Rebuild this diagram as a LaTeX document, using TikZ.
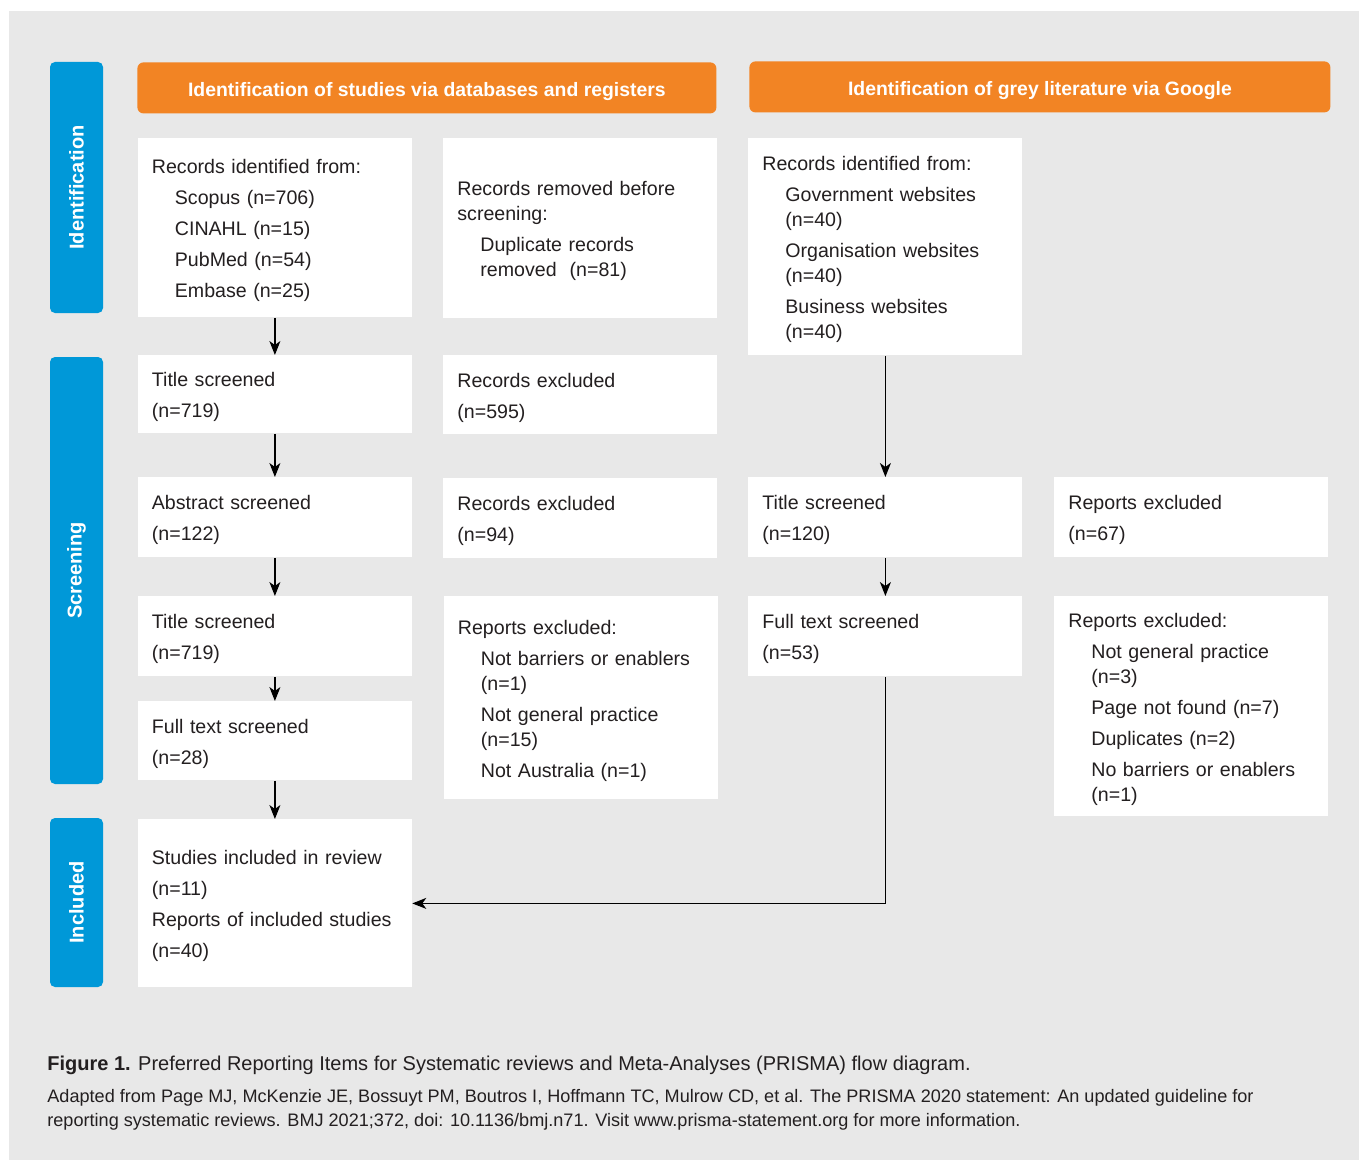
\documentclass[tikz,border=0pt]{standalone}
\usepackage{fontspec}
\setmainfont{Liberation Sans}
\usetikzlibrary{positioning,arrows.meta}

\definecolor{panelgrey}{RGB}{232,232,232}
\definecolor{prismablue}{RGB}{0,152,216}
\definecolor{prismaorange}{RGB}{242,132,36}
\definecolor{inktext}{RGB}{35,31,32}

\newcommand{\subind}{\hspace*{11.5pt}}

\tikzstyle{recbox} = [fill=white, anchor=north west, align=left, text width=123pt, inner xsep=7pt, inner ysep=0pt, text height=9.8pt, text=inktext, font=\fontsize{9.8}{12.5}\selectfont]
\tikzstyle{stagebar} = [fill=prismablue, rounded corners=2.5pt, rotate=90, minimum height=26.5pt, text=white, font=\bfseries\fontsize{10}{12}\selectfont]
\tikzstyle{headbar} = [fill=prismaorange, rounded corners=3pt, anchor=north west, minimum height=25.5pt, text height=9pt, text depth=0pt, text=white, font=\bfseries\fontsize{9.7}{12}\selectfont]
\tikzstyle{flowline} = [draw=black, line width=0.6pt, -{Stealth[length=7pt,width=5.5pt,inset=2pt]}]

\begin{document}
\begin{tikzpicture}[x=0.5pt, y=-0.5pt]
\fill[white] (0,0) rectangle (1360,1161);
\useasboundingbox (0,0) rectangle (1360,1161);
\fill[panelgrey] (9,11) rectangle (1359,1160);

% stage bars
\node[stagebar, minimum width=125.5pt] (ident) at (76.5,187.5) {Identification};
\node[stagebar, minimum width=213.5pt] (screen) at (76.5,570.5) {Screening};
\node[stagebar, minimum width=84.5pt] (incl) at (76.5,902.5) {Included};

% headers
\node[headbar, minimum width=289.5pt] (dbhead) at (137,62) {Identification of studies via databases and registers};
\node[headbar, minimum width=290.5pt] (greyhead) at (749,61) {Identification of grey literature via Google};

% databases and registers
\node[recbox, minimum height=89.5pt] (dbrec) at (137.5,138) {Records identified from:\\[3pt]
  \subind Scopus (n=706)\\[3pt]
  \subind CINAHL (n=15)\\[3pt]
  \subind PubMed (n=54)\\[3pt]
  \subind Embase (n=25)};
\node[recbox, minimum height=39pt] (dbtitle) at (137.5,355) {Title screened\\[3pt](n=719)};
\node[recbox, minimum height=40pt] (dbabs) at (137.5,477) {Abstract screened\\[3pt](n=122)};
\node[recbox, minimum height=40pt] (dbtitletwo) at (137.5,596) {Title screened\\[3pt](n=719)};
\node[recbox, minimum height=39.5pt] (dbfull) at (137.5,701) {Full text screened\\[3pt](n=28)};
\node[recbox, minimum height=84pt] (dbincl) at (137.5,819) {Studies included in review\\[3pt]
  (n=11)\\[3pt]
  Reports of included studies\\[3pt]
  (n=40)};

% removed / excluded
\node[recbox, minimum height=90pt] (dbremoved) at (443,138) {Records removed before\\screening:\\[3pt]
  \subind Duplicate records\\
  \subind removed~ (n=81)};
\node[recbox, minimum height=39.5pt] (dbexone) at (443,355) {Records excluded\\[3pt](n=595)};
\node[recbox, minimum height=40pt] (dbextwo) at (443,478) {Records excluded\\[3pt](n=94)};
\node[recbox, minimum height=101.5pt] (dbexrep) at (443.5,596) {Reports excluded:\\[3pt]
  \subind Not barriers or enablers\\
  \subind (n=1)\\[3pt]
  \subind Not general practice\\
  \subind (n=15)\\[3pt]
  \subind Not Australia (n=1)};

% grey literature
\node[recbox, minimum height=108.5pt] (greyrec) at (748,138) {Records identified from:\\[3pt]
  \subind Government websites\\
  \subind (n=40)\\[3pt]
  \subind Organisation websites\\
  \subind (n=40)\\[3pt]
  \subind Business websites\\
  \subind (n=40)};
\node[recbox, minimum height=40pt] (greytitle) at (748,477) {Title screened\\[3pt](n=120)};
\node[recbox, minimum height=40pt] (greyfull) at (748,596) {Full text screened\\[3pt](n=53)};
\node[recbox, minimum height=40pt] (greyexone) at (1054,477) {Reports excluded\\[3pt](n=67)};
\node[recbox, minimum height=110pt] (greyexrep) at (1054,596) {Reports excluded:\\[3pt]
  \subind Not general practice\\
  \subind (n=3)\\[3pt]
  \subind Page not found (n=7)\\[3pt]
  \subind Duplicates (n=2)\\[3pt]
  \subind No barriers or enablers\\
  \subind (n=1)};

% arrows
\draw[flowline] (dbrec) -- (dbtitle);
\draw[flowline] (dbtitle) -- (dbabs);
\draw[flowline] (dbabs) -- (dbtitletwo);
\draw[flowline] (dbtitletwo) -- (dbfull);
\draw[flowline] (dbfull) -- (dbincl);
\draw[flowline] (greyrec) -- (greytitle);
\draw[flowline] (greytitle) -- (greyfull);
\draw[flowline] (greyfull.south) |- (dbincl.east);

% caption
\node[anchor=west, inner sep=0pt, text=inktext, font=\fontsize{10}{12}\selectfont] (figcap) at (47,1065) {\textbf{Figure 1.} Preferred Reporting Items for Systematic reviews and Meta-Analyses (PRISMA) flow diagram.};
\node[anchor=west, inner sep=0pt, align=left, text=inktext, font=\fontsize{9.05}{12}\selectfont] (figsrc) at (47,1110) {Adapted from Page MJ, McKenzie JE, Bossuyt PM, Boutros I, Hoffmann TC, Mulrow CD, et al. The PRISMA 2020 statement: An updated guideline for\\
  reporting systematic reviews. BMJ 2021;372, doi: 10.1136/bmj.n71. Visit www.prisma-statement.org for more information.};
\end{tikzpicture}
\end{document}
